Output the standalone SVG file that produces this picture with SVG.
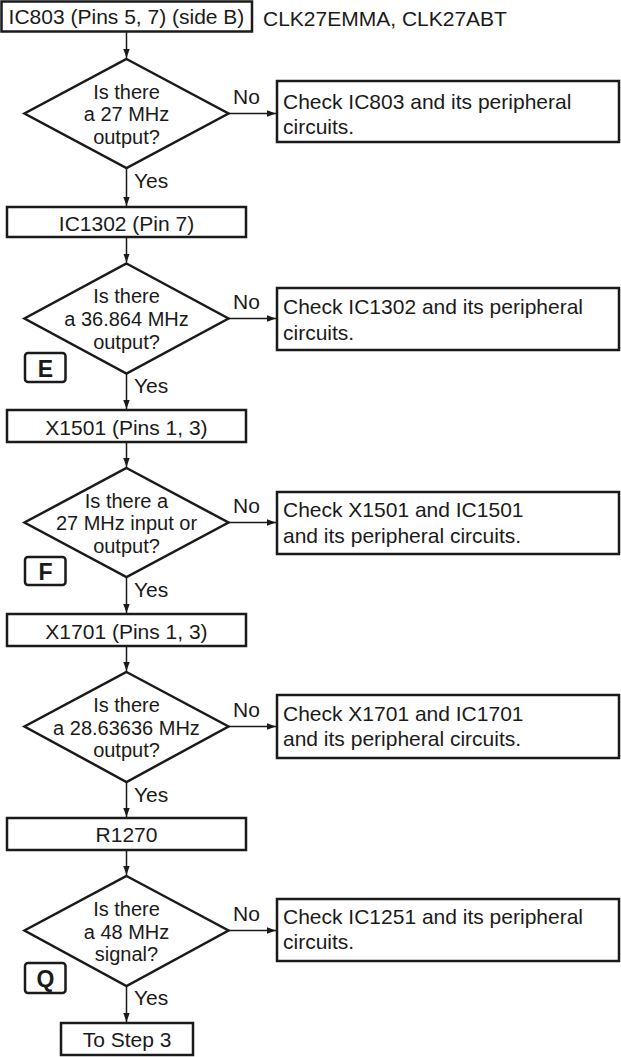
<svg xmlns="http://www.w3.org/2000/svg" width="621" height="1057" viewBox="0 0 621 1057">
<style>
.box{fill:#fff;stroke:#1a1a1a;stroke-width:2.5}
.dia{fill:#fff;stroke:#1a1a1a;stroke-width:2.5;stroke-linejoin:miter}
.tag{fill:#fff;stroke:#1a1a1a;stroke-width:2.5}
.con{fill:none;stroke:#1a1a1a;stroke-width:1.5}
text{font-family:"Liberation Sans",Arial,sans-serif;font-size:21px;fill:#1a1a1a}
.c{text-anchor:middle}
.d{font-size:20px}
.b{font-weight:bold;font-size:23px}
</style>
<defs>
<marker id="arr" markerUnits="userSpaceOnUse" markerWidth="10" markerHeight="8" refX="9" refY="4" orient="auto">
<path d="M0,0.8 L9,4 L0,7.2 Z" fill="#1a1a1a"/>
</marker>
</defs>
<g id="connectors">
<line class="con" x1="126.5" y1="32" x2="126.5" y2="58" marker-end="url(#arr)"/>
<line class="con" x1="126.5" y1="168" x2="126.5" y2="206" marker-end="url(#arr)"/>
<line class="con" x1="228.5" y1="113.5" x2="276" y2="113.5" marker-end="url(#arr)"/>
<line class="con" x1="126.5" y1="238" x2="126.5" y2="262.5" marker-end="url(#arr)"/>
<line class="con" x1="126.5" y1="373.5" x2="126.5" y2="409" marker-end="url(#arr)"/>
<line class="con" x1="228.5" y1="318.5" x2="276" y2="318.5" marker-end="url(#arr)"/>
<line class="con" x1="126.5" y1="443" x2="126.5" y2="467" marker-end="url(#arr)"/>
<line class="con" x1="126.5" y1="577" x2="126.5" y2="613" marker-end="url(#arr)"/>
<line class="con" x1="228.5" y1="522.5" x2="276" y2="522.5" marker-end="url(#arr)"/>
<line class="con" x1="126.5" y1="647" x2="126.5" y2="671" marker-end="url(#arr)"/>
<line class="con" x1="126.5" y1="782" x2="126.5" y2="817" marker-end="url(#arr)"/>
<line class="con" x1="228.5" y1="726.5" x2="276" y2="726.5" marker-end="url(#arr)"/>
<line class="con" x1="126.5" y1="851" x2="126.5" y2="875" marker-end="url(#arr)"/>
<line class="con" x1="126.5" y1="986" x2="126.5" y2="1022" marker-end="url(#arr)"/>
<line class="con" x1="228.5" y1="930.5" x2="276" y2="930.5" marker-end="url(#arr)"/>
<text x="233" y="104">No</text>
<text x="134" y="188">Yes</text>
<text x="233" y="309">No</text>
<text x="134" y="393">Yes</text>
<text x="233" y="513">No</text>
<text x="134" y="597">Yes</text>
<text x="233" y="717">No</text>
<text x="134" y="802">Yes</text>
<text x="233" y="921">No</text>
<text x="134" y="1005">Yes</text>
</g>
<g id="start">
<rect class="box" x="1.5" y="1.5" width="250.5" height="30"/>
<text class="c" x="126.5" y="24">IC803 (Pins 5, 7) (side B)</text>
<text x="263" y="26">CLK27EMMA, CLK27ABT</text>
</g>
<g id="q1">
<path class="dia" d="M126.5,59 L228.5,113.5 L126.5,168 L24.5,113.5 Z"/>
<text class="c d" x="126.5" y="99">Is there</text>
<text class="c d" x="126.5" y="121">a 27 MHz</text>
<text class="c d" x="126.5" y="143.5">output?</text>
</g>
<g id="chk1">
<rect class="box" x="277" y="81" width="342" height="61"/>
<text x="283" y="109">Check IC803 and its peripheral</text>
<text x="283" y="134">circuits.</text>
</g>
<g id="ic1302">
<rect class="box" x="7" y="207" width="239" height="30"/>
<text class="c" x="126.5" y="231">IC1302 (Pin 7)</text>
</g>
<g id="q2">
<path class="dia" d="M126.5,263.5 L228.5,318.5 L126.5,373.5 L24.5,318.5 Z"/>
<text class="c d" x="126.5" y="303">Is there</text>
<text class="c d" x="126.5" y="326">a 36.864 MHz</text>
<text class="c d" x="126.5" y="348.5">output?</text>
</g>
<g id="tagE">
<rect class="tag" x="25" y="353" width="40.5" height="29" rx="3"/>
<text class="c b" x="45.5" y="377">E</text>
</g>
<g id="chk2">
<rect class="box" x="277" y="288" width="342" height="62"/>
<text x="283" y="314">Check IC1302 and its peripheral</text>
<text x="283" y="340">circuits.</text>
</g>
<g id="x1501">
<rect class="box" x="7" y="410" width="239" height="32"/>
<text class="c" x="126.5" y="435">X1501 (Pins 1, 3)</text>
</g>
<g id="q3">
<path class="dia" d="M126.5,468 L228.5,522.5 L126.5,577 L24.5,522.5 Z"/>
<text class="c d" x="126.5" y="508">Is there a</text>
<text class="c d" x="126.5" y="530">27 MHz input or</text>
<text class="c d" x="126.5" y="552.5">output?</text>
</g>
<g id="tagF">
<rect class="tag" x="25" y="557" width="40.5" height="28" rx="3"/>
<text class="c b" x="45.5" y="580">F</text>
</g>
<g id="chk3">
<rect class="box" x="277" y="492" width="342" height="62"/>
<text x="283" y="517">Check X1501 and IC1501</text>
<text x="283" y="543">and its peripheral circuits.</text>
</g>
<g id="x1701">
<rect class="box" x="7" y="614" width="239" height="32"/>
<text class="c" x="126.5" y="638.5">X1701 (Pins 1, 3)</text>
</g>
<g id="q4">
<path class="dia" d="M126.5,672 L228.5,726.5 L126.5,782 L24.5,726.5 Z"/>
<text class="c d" x="126.5" y="712">Is there</text>
<text class="c d" x="126.5" y="734.5">a 28.63636 MHz</text>
<text class="c d" x="126.5" y="757">output?</text>
</g>
<g id="chk4">
<rect class="box" x="277" y="695" width="342" height="63"/>
<text x="283" y="721">Check X1701 and IC1701</text>
<text x="283" y="746">and its peripheral circuits.</text>
</g>
<g id="r1270">
<rect class="box" x="7" y="818" width="239" height="32"/>
<text class="c" x="126.5" y="842">R1270</text>
</g>
<g id="q5">
<path class="dia" d="M126.5,876 L228.5,930.5 L126.5,986 L24.5,930.5 Z"/>
<text class="c d" x="126.5" y="916">Is there</text>
<text class="c d" x="126.5" y="938.5">a 48 MHz</text>
<text class="c d" x="126.5" y="961">signal?</text>
</g>
<g id="tagQ">
<rect class="tag" x="25" y="963" width="40.5" height="30" rx="3"/>
<text class="c b" x="45.5" y="987">Q</text>
</g>
<g id="chk5">
<rect class="box" x="277" y="899" width="342" height="62"/>
<text x="283" y="924">Check IC1251 and its peripheral</text>
<text x="283" y="949">circuits.</text>
</g>
<g id="end">
<rect class="box" x="61" y="1023" width="132" height="32"/>
<text class="c" x="127" y="1047">To Step 3</text>
</g>
</svg>
